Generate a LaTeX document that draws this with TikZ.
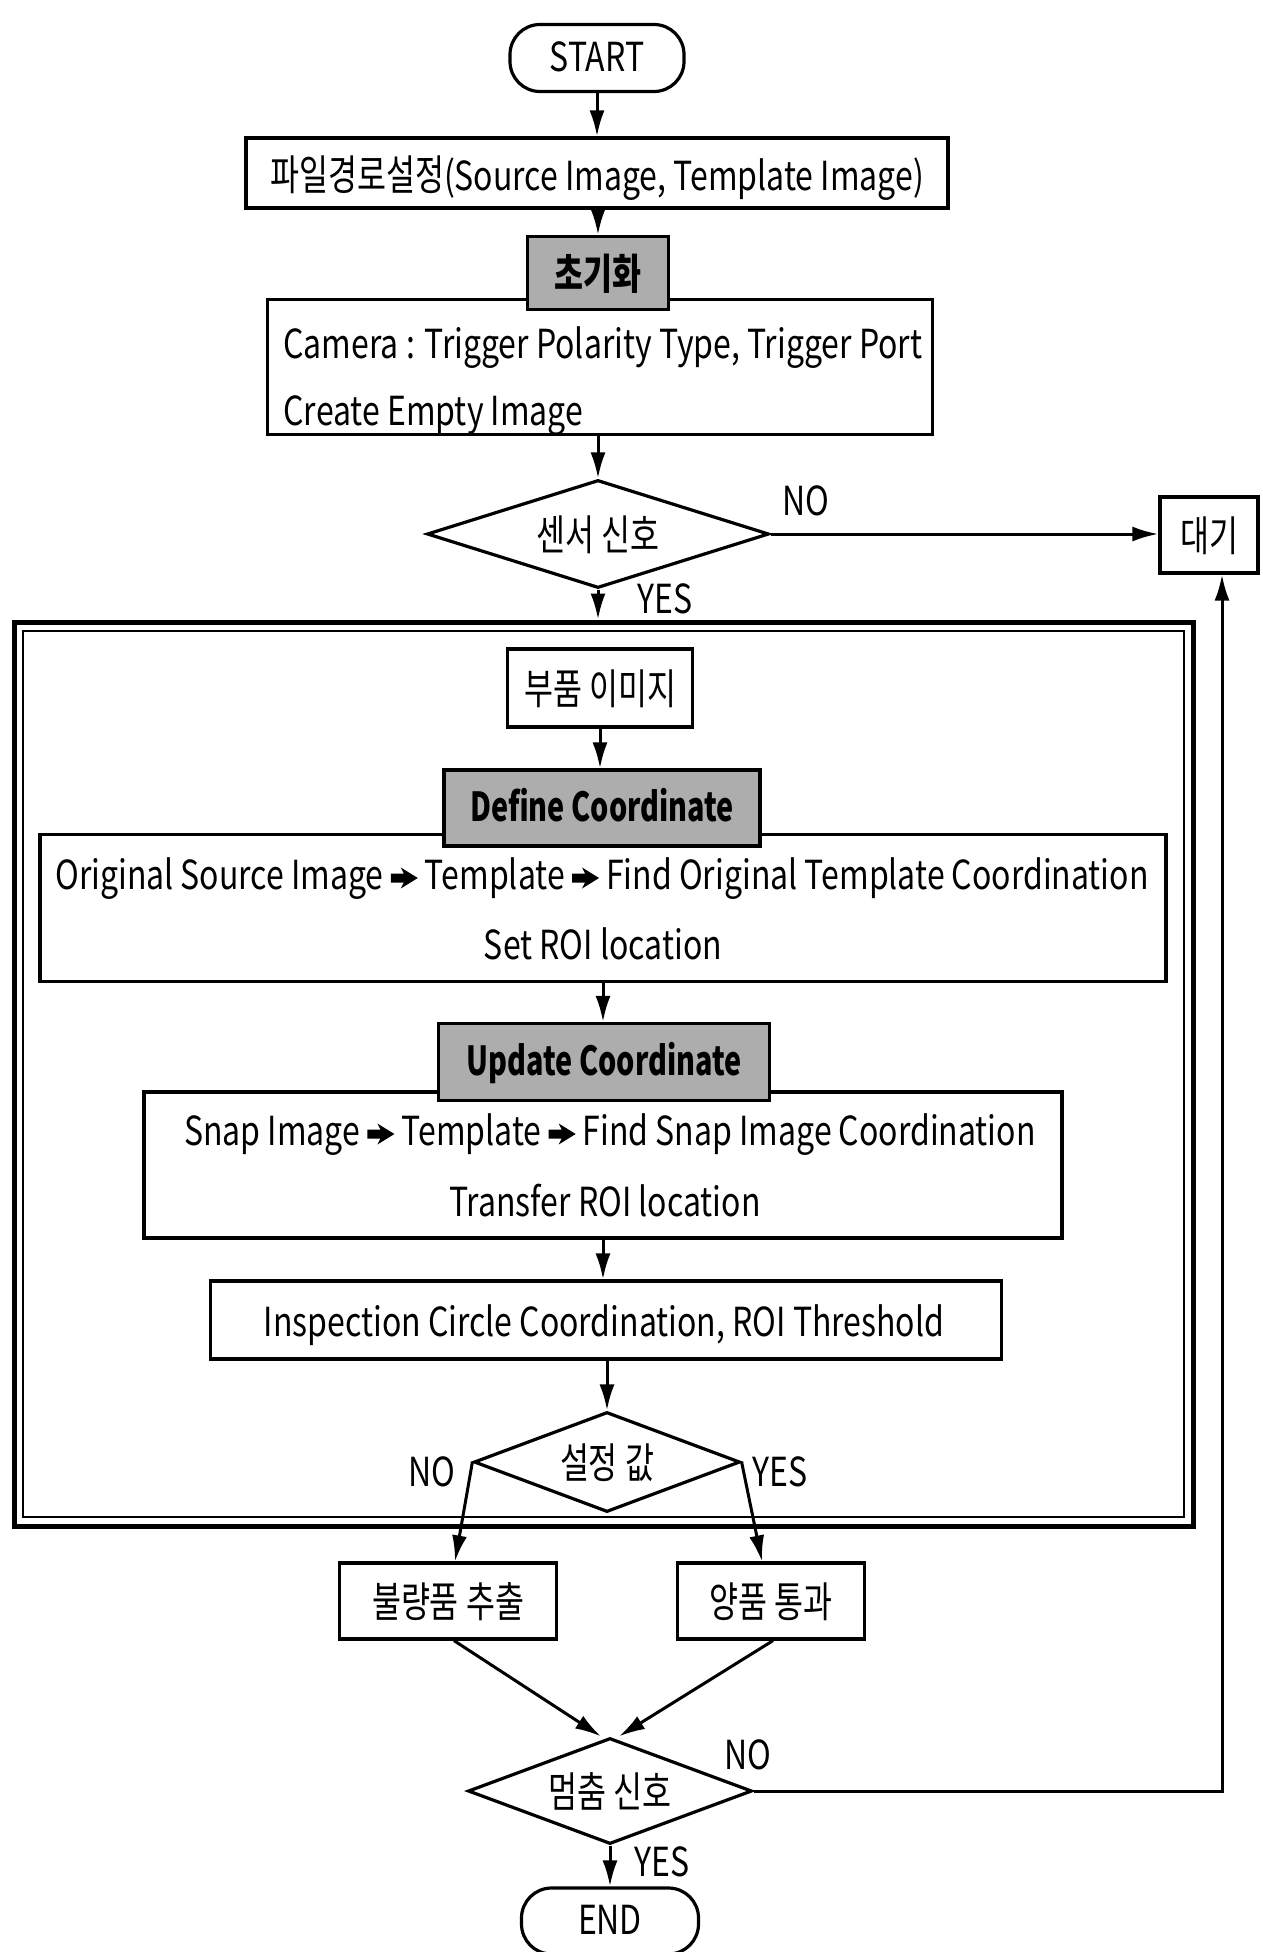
\documentclass[tikz,border=0pt]{standalone}
\usepackage{fontspec}
\setmainfont{Noto Sans CJK KR}[FakeStretch=0.8]
\newfontfamily\korfont{Noto Sans CJK KR}[FakeStretch=0.75]
\newfontfamily\shfont{Noto Sans CJK KR}[FakeStretch=0.72]
\usetikzlibrary{shapes.geometric,arrows.meta}
\newcommand\myfs{\fontsize{40}{44}\selectfont}
\newcommand\korfs{\korfont\fontsize{42}{46}\selectfont}
\newcommand\shfs{\shfont\fontsize{40}{44}\selectfont\bfseries}
\newcommand\ra{\tikz[x=1pt,y=1pt,baseline=0pt]\fill[black] (0,7)--(13,7)--(10,1)--(27,11.5)--(10,22)--(13,16)--(0,16)--cycle;}
\begin{document}
\begin{tikzpicture}[x=1pt,y=-1pt,
  every node/.style={font=\myfs, text height=27pt, text depth=0pt},
  kr/.style={font=\korfs, text height=32pt, text depth=0pt},
  box/.style={draw, line width=3.2pt, fill=white, inner sep=0pt},
  shadebox/.style={draw, line width=3.2pt, fill=black!32, inner sep=0pt, font=\shfs},
  term/.style={draw, line width=3.2pt, fill=white, inner sep=0pt, rounded corners=30pt},
  dec/.style={draw, diamond, aspect=3, line width=3.2pt, fill=white, inner sep=0pt, kr},
  arr/.style={line width=3pt, -{Latex[length=26pt,width=15pt]}}]
\useasboundingbox (0,0) rectangle (1263,1952);
\fill[white] (0,0) rectangle (1263,1952);

% top part
\node[term, minimum width=174, minimum height=67] (start) at (597,58) {START};
\node[box, minimum width=702, minimum height=70] (path) at (597,173) {};
\node (pathtxt) at (597,177) {{\korfs 파일경로설정}(Source Image, Template Image)};
\node[box, minimum width=665, minimum height=135] (cam) at (600,367) {};
\node[anchor=west] (cam1) at (280,345) {Camera : Trigger Polarity Type, Trigger Port};
\node[anchor=west] (cam2) at (280,412) {Create Empty Image};
\node[shadebox, kr, font=\korfs\bfseries, minimum width=141, minimum height=73] (init) at (598,273) {초기화};
\node[dec, minimum width=342, minimum height=108] (sensor) at (598,534) {센서 신호};
\node[box, kr, minimum width=98, minimum height=76] (wait) at (1209,535) {대기};

% frame
\node[draw, line width=5pt, minimum width=1179, minimum height=904, inner sep=0pt] (frame) at (603.5,1074) {};
\node[draw, line width=2.5pt, minimum width=1161, minimum height=886, inner sep=0pt] (framein) at (603.5,1074) {};

\node[box, kr, minimum width=185, minimum height=78] (part) at (600,688) {부품 이미지};
\node[box, minimum width=1126, minimum height=147] (orig) at (603,908) {};
\node (orig1) at (602,876) {Original Source Image \ra{} Template \ra{} Find Original Template Coordination};
\node (orig2) at (603,946) {Set ROI location};
\node[shadebox, minimum width=316, minimum height=76] (define) at (602,808) {Define Coordinate};
\node[box, minimum width=918, minimum height=146] (snap) at (603,1165) {};
\node (snap1) at (610,1132) {Snap Image \ra{} Template \ra{} Find Snap Image Coordination};
\node (snap2) at (605,1203) {Transfer ROI location};
\node[shadebox, minimum width=331, minimum height=77] (update) at (604,1062) {Update Coordinate};
\node[box, minimum width=791, minimum height=78] (insp) at (606,1320) {};
\node (insptxt) at (604,1323) {Inspection Circle Coordination, ROI Threshold};
\node[dec, minimum width=266, minimum height=100] (setv) at (607,1462) {설정 값};

% bottom part
\node[box, kr, minimum width=217, minimum height=76] (bad) at (448,1601) {불량품 추출};
\node[box, kr, minimum width=187, minimum height=76] (good) at (771,1601) {양품 통과};
\node[dec, minimum width=284, minimum height=106] (stop) at (610,1791) {멈춤 신호};
\node[term, minimum width=177, minimum height=66] (end) at (610,1921) {END};
\coordinate (loopx) at (1222,0);

% labels
\node (no1) at (806,502) {NO};
\node (yes1) at (665,600) {YES};
\node (no2) at (432,1473) {NO};
\node (yes2) at (780,1473) {YES};
\node (no3) at (748,1756) {NO};
\node (yes3) at (662,1863) {YES};

% connectors
\draw[arr] (start.south) -- (start.south |- path.north);
\draw[arr] (init.north |- path.south) -- (init.north);
\draw[arr] (sensor.north |- cam.south) -- (sensor.north);
\draw[arr] (sensor.east) -- (sensor.east -| wait.west);
\draw[arr] (sensor.south) -- (sensor.south |- frame.north);
\draw[arr] (part.south) -- (part.south |- define.north);
\draw[arr] (orig.south) -- (orig.south |- update.north);
\draw[arr] (snap.south) -- (snap.south |- insp.north);
\draw[arr] (setv.north |- insp.south) -- (setv.north);
\draw[arr] (setv.west) -- ([xshift=7pt]bad.north);
\draw[arr] (setv.east) -- ([xshift=-9pt]good.north);
\draw[arr] ([xshift=6pt]bad.south) -- ([xshift=-9pt]stop.north);
\draw[arr] ([xshift=2pt]good.south) -- ([xshift=9pt]stop.north);
\draw[arr] (stop.east) -- (stop.east -| loopx) -- (loopx |- wait.south);
\draw[arr] (stop.south) -- (stop.south |- end.north);
\end{tikzpicture}
\end{document}
